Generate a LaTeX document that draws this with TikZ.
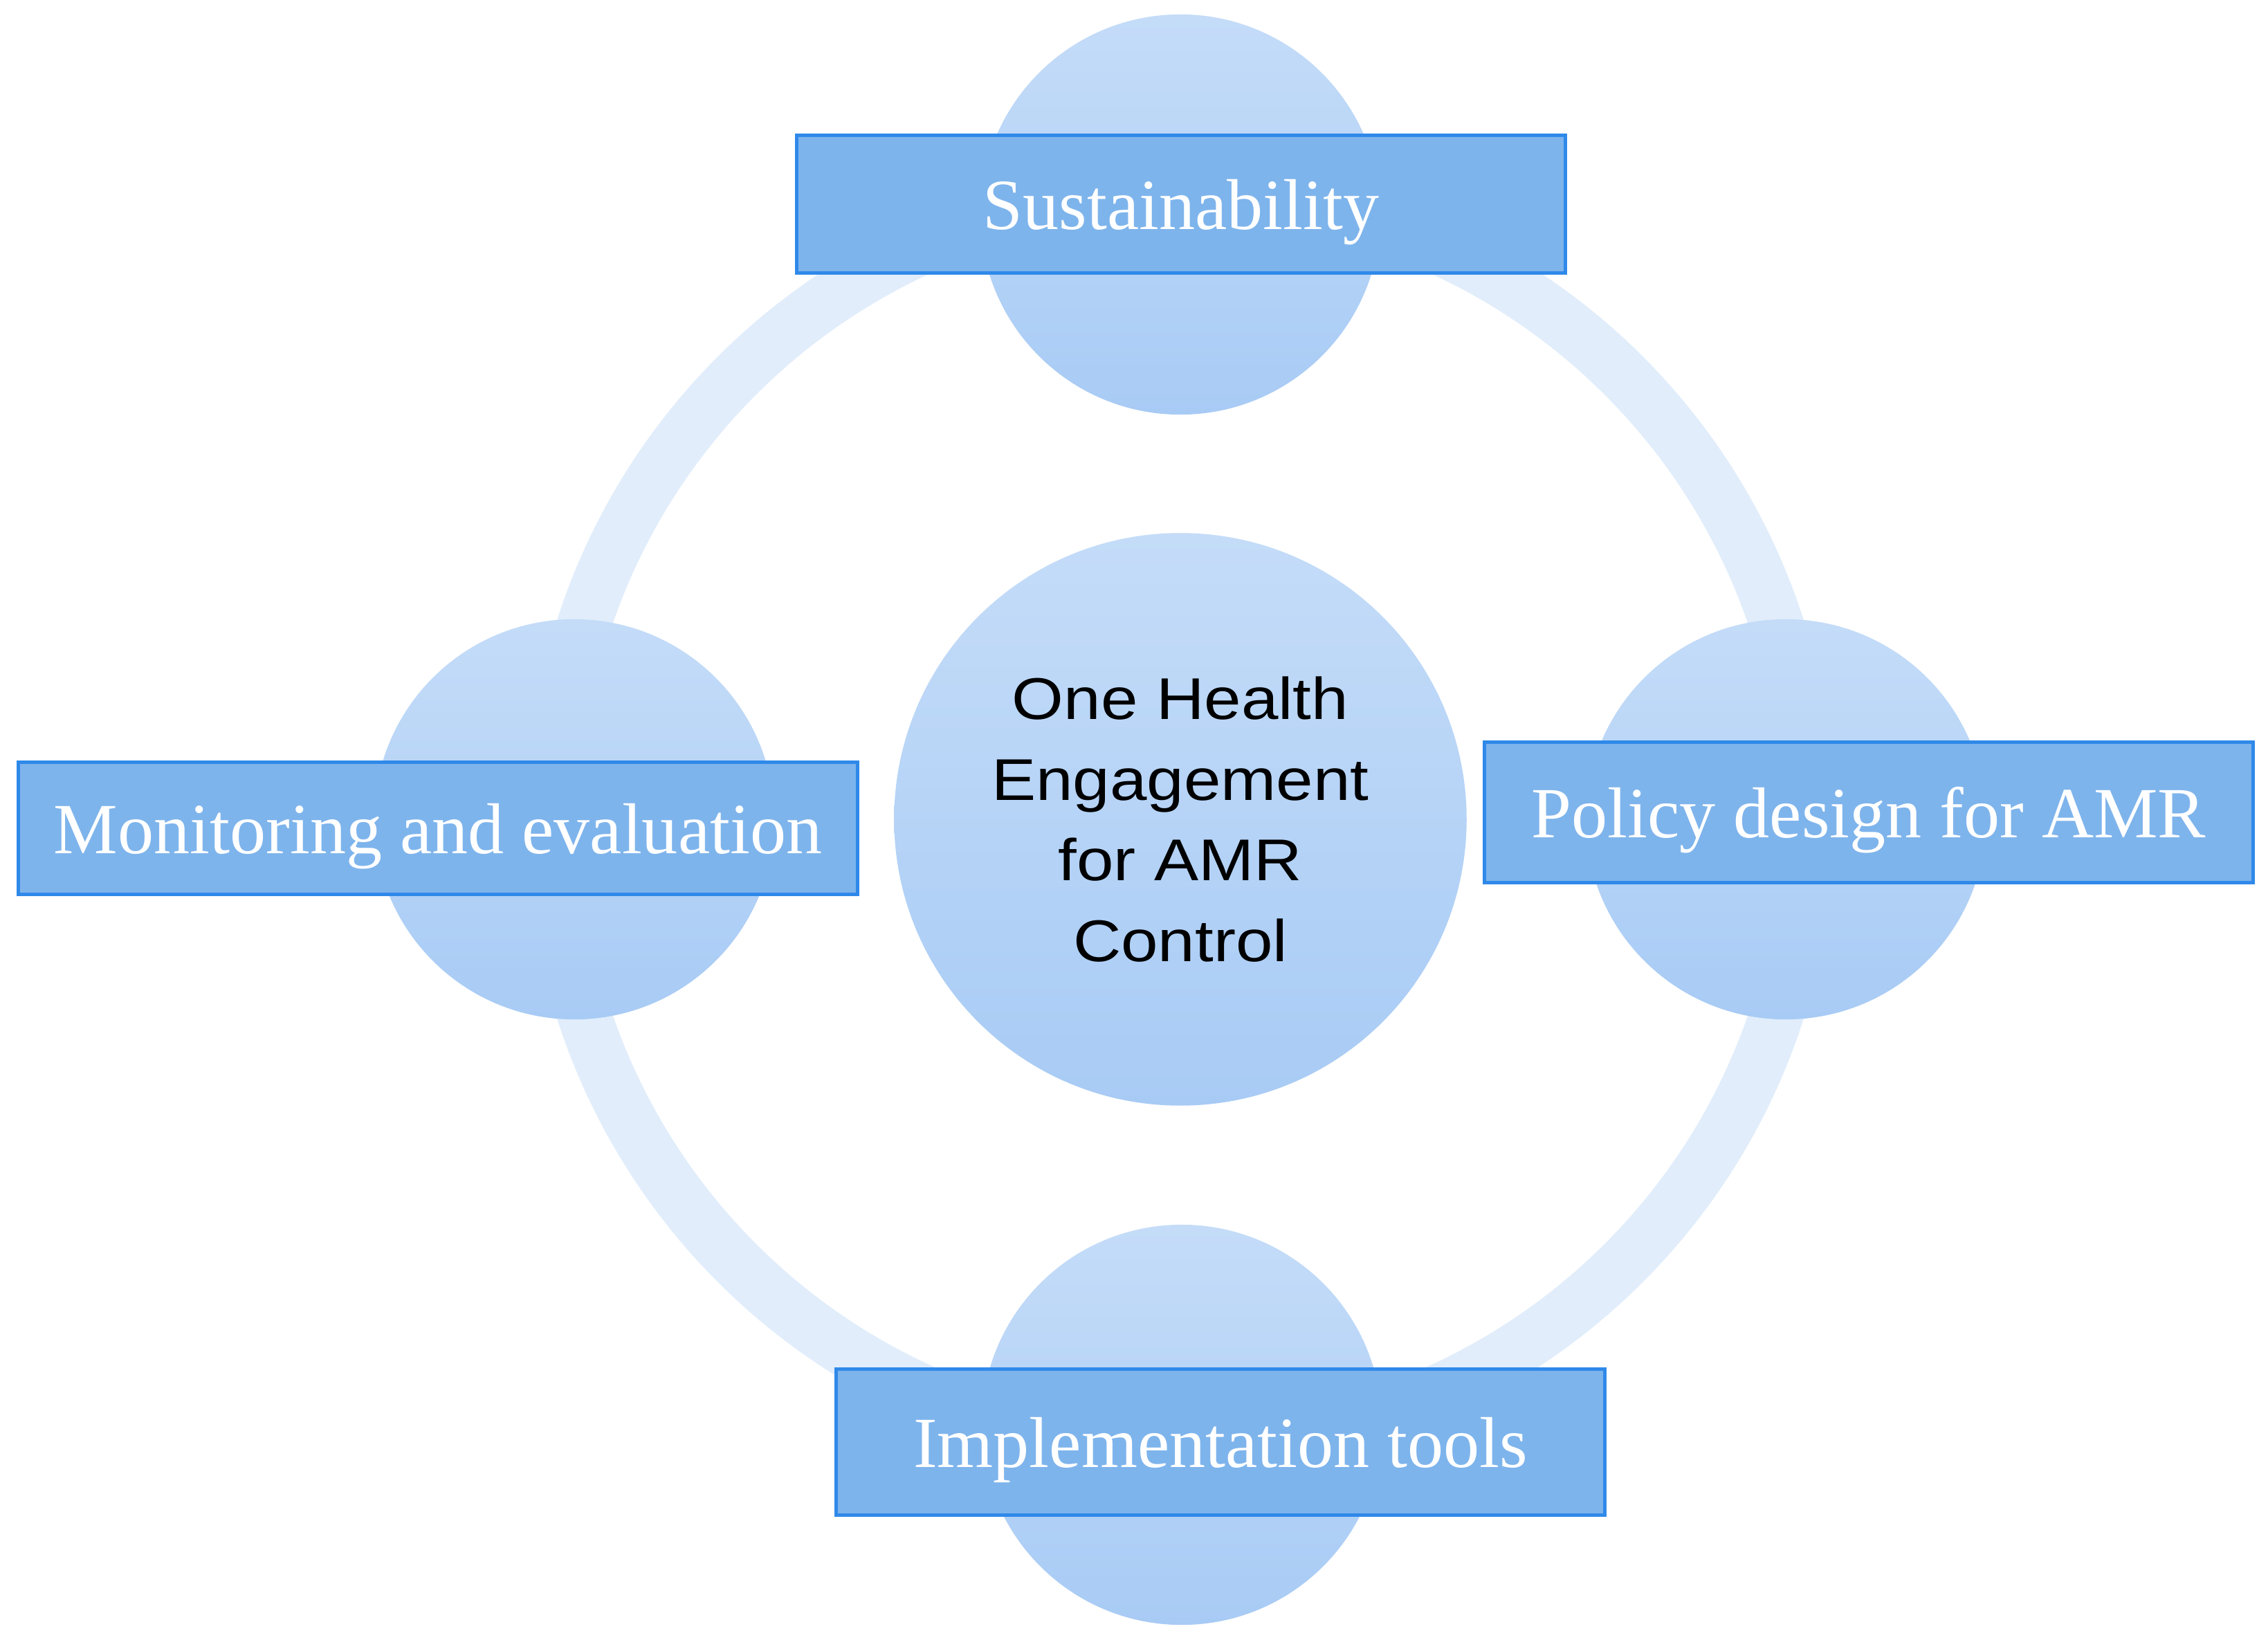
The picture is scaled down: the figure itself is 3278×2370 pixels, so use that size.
\documentclass[tikz,border=0pt]{standalone}
\usepackage{fontspec}
\newfontfamily\boxfont{Liberation Serif}
\newfontfamily\corefont[FakeStretch=1.13]{Liberation Sans}
\definecolor{ringcol}{HTML}{E1EDFB}
\definecolor{circtop}{HTML}{C4DCF8}
\definecolor{circbot}{HTML}{A8CBF5}
\definecolor{boxfill}{HTML}{7EB4EC}
\definecolor{boxline}{HTML}{2F89E9}
\begin{document}
\begin{tikzpicture}[x=0.01cm,y=-0.01cm,
  bubble/.style={circle, inner sep=0pt, draw=none, top color=circtop, bottom color=circbot},
  labelbox/.style={rectangle, draw=boxline, line width=1.4pt, fill=boxfill, text=white,
    font=\boxfont\fontsize{29.6}{35}\selectfont, inner sep=0pt, text depth=0pt,
    minimum height=1.99cm},
  ringstyle/.style={draw=ringcol, line width=0.78cm}
]
\useasboundingbox (0,0) rectangle (3278,2370);
\fill[white] (0,0) rectangle (3278,2370);
\coordinate (C) at (1706,1184);
\draw[ringstyle] (C) circle[radius=9.06cm];
\node[bubble, minimum size=5.78cm] (topc) at (1706,310) {};
\node[bubble, minimum size=5.78cm] (leftc) at (830,1184) {};
\node[bubble, minimum size=5.78cm] (rightc) at (2581,1184) {};
\node[bubble, minimum size=5.78cm] (botc) at (1708,2059) {};
\node[bubble, minimum size=8.27cm, align=center, text=black,
  font=\corefont\fontsize{24.2}{33.2}\selectfont] (core) at (C) {One Health\\Engagement\\for AMR\\Control};
\node[labelbox, minimum width=11.1cm] (sus) at (1707,295) {Sustainability};
\node[labelbox, minimum width=12.12cm, minimum height=1.90cm] (mon) at (633,1197) {Monitoring and evaluation};
\node[labelbox, minimum width=11.1cm, minimum height=2.02cm] (pol) at (2701,1174) {Policy design for AMR};
\node[labelbox, minimum width=11.1cm, minimum height=2.10cm] (imp) at (1764,2084) {Implementation tools};
\end{tikzpicture}
\end{document}
